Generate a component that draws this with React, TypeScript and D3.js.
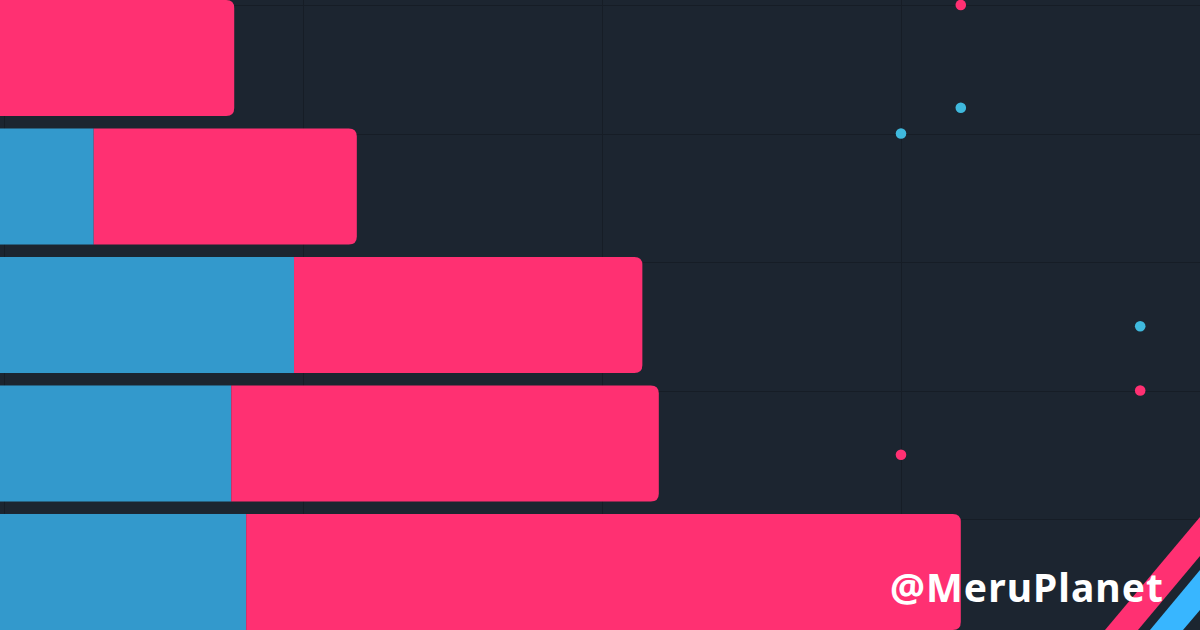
import React, { useRef, useEffect } from 'react';
import * as d3 from 'd3';

// Stacked bars (blue part first, then pink part)
const categories = ['A', 'B', 'C', 'D', 'E'];
const blueValues = [0, 3.0, 9.7, 7.6, 8.1];
const pinkValues = [7.7, 8.8, 11.65, 14.3, 23.9];

// Scatter dots drawn on top
const pinkDotsX = [32, 38, 30];
const pinkDotsY = [0, 3.0, 3.5];
const blueDotsX = [32, 30, 38];
const blueDotsY = [0.8, 1.0, 2.5];

const xTicks = [0, 10, 20, 30, 40];
const yTicks = [0, 1, 2, 3, 4];

const BG = '#1c2530';
const GRID = '#161d26';
const PINK = '#ff3072';
const BLUE_BAR = '#3399cc';
const BLUE_DOT = '#3fb9dd';

function App() {
    const svgRef = useRef<SVGSVGElement>(null);

    useEffect(() => {
        draw();
    }, []);

    const draw = () => {
        const width = 1200;
        const height = 630;

        const svg = d3.select(svgRef.current);
        svg.selectAll('*').remove();

        svg.append('rect').attr('width', width).attr('height', height).attr('fill', BG);

        const x = d3.scaleLinear().domain([0, 40]).range([4, 1200]);
        const yDot = d3.scaleLinear().domain([0, 4]).range([5, 519]);
        const yBar = d3
            .scaleBand()
            .domain(categories)
            .range([0, height])
            .paddingInner(0.097)
            .paddingOuter(0);

        // Grid lines
        svg
            .selectAll('.vgrid')
            .data(xTicks)
            .join('line')
            .attr('class', 'vgrid')
            .attr('x1', (d) => Math.round(x(d)) + 0.5)
            .attr('x2', (d) => Math.round(x(d)) + 0.5)
            .attr('y1', 0)
            .attr('y2', height)
            .attr('stroke', GRID)
            .attr('stroke-width', 1);

        svg
            .selectAll('.hgrid')
            .data(yTicks)
            .join('line')
            .attr('class', 'hgrid')
            .attr('x1', 0)
            .attr('x2', width)
            .attr('y1', (d) => Math.round(yDot(d)) + 0.5)
            .attr('y2', (d) => Math.round(yDot(d)) + 0.5)
            .attr('stroke', GRID)
            .attr('stroke-width', 1);

        const rows = categories.map((c, i) => ({
            cat: c,
            blue: blueValues[i],
            total: blueValues[i] + pinkValues[i],
        }));

        const left = x(0) - 4;
        const r = 8;

        // Blue segments
        svg
            .selectAll('.blue-bar')
            .data(rows.filter((d) => d.blue > 0))
            .join('rect')
            .attr('class', 'blue-bar')
            .attr('x', left)
            .attr('y', (d) => yBar(d.cat)!)
            .attr('width', (d) => x(d.blue) - left)
            .attr('height', yBar.bandwidth())
            .attr('fill', BLUE_BAR);

        // Pink segments with rounded right end
        svg
            .selectAll('.pink-bar')
            .data(rows)
            .join('path')
            .attr('class', 'pink-bar')
            .attr('d', (d) => {
                const x0 = d.blue > 0 ? x(d.blue) : left;
                const x1 = x(d.total);
                const y0 = yBar(d.cat)!;
                const y1 = y0 + yBar.bandwidth();
                return `M${x0},${y0}H${x1 - r}Q${x1},${y0} ${x1},${y0 + r}V${y1 - r}Q${x1},${y1} ${x1 - r},${y1}H${x0}Z`;
            })
            .attr('fill', PINK);

        // Dots
        const dots = [
            ...pinkDotsX.map((v, i) => ({ x: v, y: pinkDotsY[i], c: PINK })),
            ...blueDotsX.map((v, i) => ({ x: v, y: blueDotsY[i], c: BLUE_DOT })),
        ];
        svg
            .selectAll('.dot')
            .data(dots)
            .join('circle')
            .attr('class', 'dot')
            .attr('cx', (d) => x(d.x))
            .attr('cy', (d) => yDot(d.y))
            .attr('r', 5.3)
            .attr('fill', (d) => d.c);

        // Corner stripes (decoration)
        svg
            .append('polygon')
            .attr('points', '1105,630 1200,517 1200,556 1138,630')
            .attr('fill', PINK);
        svg
            .append('polygon')
            .attr('points', '1150,630 1200,570 1200,610 1183,630')
            .attr('fill', '#38b6ff');

        // Watermark
        svg
            .append('text')
            .attr('x', 890)
            .attr('y', 602)
            .attr('textLength', 273)
            .attr('lengthAdjust', 'spacing')
            .style('font-family', '"Noto Sans", sans-serif')
            .style('font-size', '39px')
            .style('font-weight', '700')
            .style('fill', '#ffffff')
            .text('@MeruPlanet');
    };

    return (
        <svg
            ref={svgRef}
            width={1200}
            height={630}
            style={{ position: 'fixed', left: 0, top: 0, display: 'block' }}
        />
    );
}

export default App;
